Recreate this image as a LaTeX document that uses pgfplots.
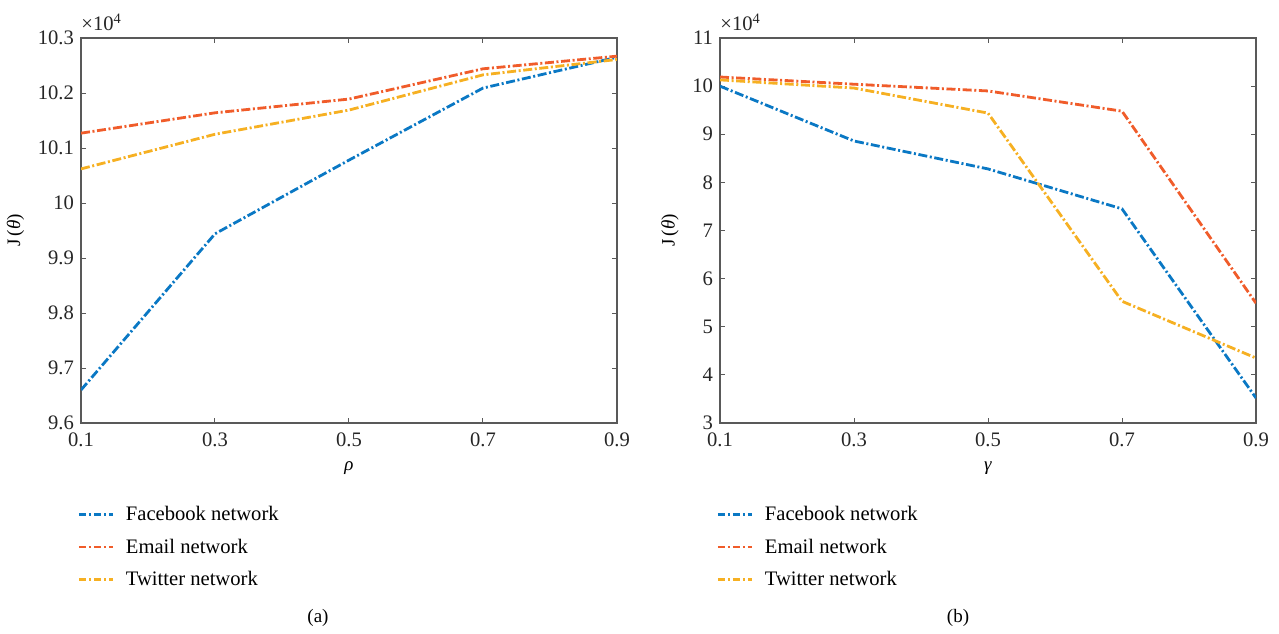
\documentclass[border=0pt]{standalone}
\usepackage{fontspec}
\setmainfont{Liberation Serif}
\usepackage{pgfplots}
\pgfplotsset{compat=1.18}
\definecolor{mblue}{RGB}{10,120,196}
\definecolor{mred}{RGB}{240,92,42}
\definecolor{myel}{RGB}{246,176,34}
\pgfplotsset{
  myax/.style={
    scale only axis, width=268pt, height=192.5pt,
    clip mode=individual,
    xmin=0.1, xmax=0.9, xtick={0.1,0.3,0.5,0.7,0.9},
    xticklabels={0.1,0.3,0.5,0.7,0.9},
    tick align=inside, major tick length=2.5pt,
    axis line style={draw=black!65, line width=0.6pt},
    tick style={draw=black!65, line width=0.5pt},
    ticklabel style={font=\fontsize{10.3}{12}\selectfont, text=black!85},
    xticklabel style={yshift=-1.5pt},
    /pgf/number format/assume math mode=true,
    label style={font=\fontsize{9.5}{11}\selectfont},
    xlabel style={yshift=-0.5pt},
    ylabel={J\,(\textit{θ})},
    legend style={draw=none, fill=none, at={(axis description cs:-0.018,-0.2)}, anchor=north west,
      font=\fontsize{10.3}{12}\selectfont, row sep=5.6pt,
      nodes={inner sep=1pt},
      /tikz/every odd column/.append style={column sep=5pt}},
    legend cell align=left,
    legend image code/.code={\draw[#1, line width=1.1pt, dash pattern=on 3.5pt off 1.5pt on 1pt off 1.5pt] (0pt,0.25pt) -- (17pt,0.25pt);},
  },
  ln/.style={line width=1.4pt, dash pattern=on 4.5pt off 1.3pt on 1pt off 1.3pt},
}
\begin{document}
\begin{tikzpicture}
\path[use as bounding box] (0,0) rectangle (639.5pt,-316.5pt);
\begin{axis}[myax, at={(40.5pt,-211.5pt)}, anchor=south west,
  ymin=9.6, ymax=10.3, ytick={9.6,9.7,9.8,9.9,10,10.1,10.2,10.3},
  yticklabels={9.6,9.7,9.8,9.9,10,10.1,10.2,10.3},
  xlabel={\textit{ρ}}]
\addplot[ln, color=mblue] coordinates {(0.1,9.66) (0.3,9.944) (0.5,10.078) (0.7,10.209) (0.9,10.265)};
\addlegendentry{Facebook network}
\addplot[ln, color=mred] coordinates {(0.1,10.127) (0.3,10.164) (0.5,10.189) (0.7,10.244) (0.9,10.267)};
\addlegendentry{Email network}
\addplot[ln, color=myel] coordinates {(0.1,10.062) (0.3,10.125) (0.5,10.169) (0.7,10.233) (0.9,10.261)};
\addlegendentry{Twitter network}
\end{axis}
\node[anchor=south west, font=\fontsize{10.3}{12}\selectfont, text=black!85, inner sep=1pt] at (39.5pt,-16.5pt) {×10\textsuperscript{4}};
\begin{axis}[myax, at={(360pt,-211.5pt)}, anchor=south west,
  ymin=3, ymax=11, ytick={3,4,5,6,7,8,9,10,11},
  xlabel={\textit{γ}}]
\addplot[ln, color=mblue] coordinates {(0.1,10.0) (0.3,8.86) (0.5,8.28) (0.7,7.45) (0.9,3.52)};
\addlegendentry{Facebook network}
\addplot[ln, color=mred] coordinates {(0.1,10.19) (0.3,10.04) (0.5,9.9) (0.7,9.48) (0.9,5.49)};
\addlegendentry{Email network}
\addplot[ln, color=myel] coordinates {(0.1,10.13) (0.3,9.96) (0.5,9.44) (0.7,5.53) (0.9,4.35)};
\addlegendentry{Twitter network}
\end{axis}
\node[anchor=south west, font=\fontsize{10.3}{12}\selectfont, text=black!85, inner sep=1pt] at (359pt,-16.5pt) {×10\textsuperscript{4}};
\node[font=\fontsize{9.5}{11}\selectfont] at (159pt,-309pt) {(a)};
\node[font=\fontsize{9.5}{11}\selectfont] at (479pt,-309pt) {(b)};
\end{tikzpicture}
\end{document}
